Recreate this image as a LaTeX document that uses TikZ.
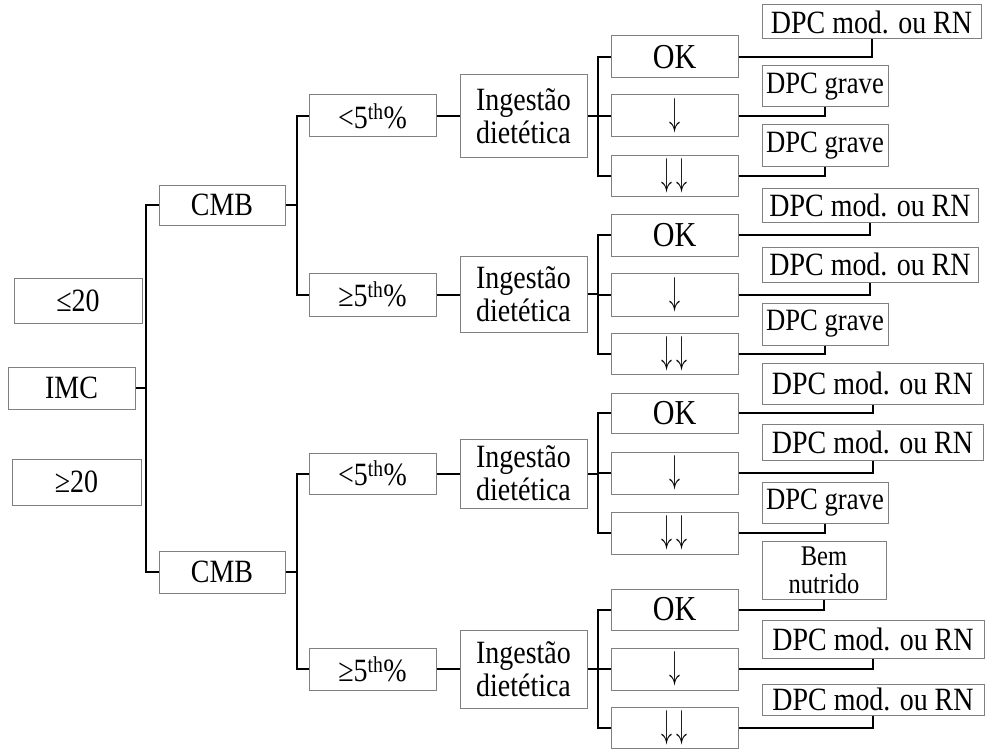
\documentclass[tikz,border=0pt]{standalone}
\usepackage{fontspec}
\setmainfont{Liberation Serif}[FakeStretch=0.86]
\newcommand{\dn}{\resizebox{11pt}{27pt}{$\downarrow$}}
\newcommand{\ddn}{\resizebox{11pt}{27pt}{$\downarrow$}\hspace{4pt}\resizebox{11pt}{27pt}{$\downarrow$}}
\begin{document}
\begin{tikzpicture}[x=1pt,y=-1pt,
  box/.style={draw=black!50, line width=1pt, inner sep=0pt, align=center,
    font=\fontsize{32.5}{33}\selectfont},
  lvl/.style={box, minimum width=127pt, minimum height=42pt},
  okbox/.style={lvl, font=\fontsize{35}{36}\selectfont},
  leafmod/.style={box, minimum width=220pt, minimum height=36pt},
  leafgrave/.style={box, minimum width=126pt, minimum height=41pt,
    font=\fontsize{31}{30}\selectfont},
  conn/.style={line width=2pt, black}]
\fill[white] (0,0) rectangle (988,749);
\useasboundingbox (0,0) rectangle (988,749);
% bus coordinates
\coordinate (b0) at (146,0);
\coordinate (b1) at (297,0);
\coordinate (b2) at (598,0);
% level 0
\node[box, minimum width=128pt, minimum height=45pt] (le20) at (78,300.5) {≤20};
\node[box, minimum width=127pt, minimum height=42pt] (imc) at (71.5,388) {IMC};
\node[box, minimum width=129pt, minimum height=46pt] (ge20) at (76.5,482) {≥20};
% level 1
\node[box, minimum width=126pt, minimum height=40pt] (cmbA) at (222,205) {CMB};
\node[box, minimum width=126pt, minimum height=42pt] (cmbB) at (222,572) {CMB};
% level 2
\node[lvl] (p1) at (372.5,116) {<5\textsuperscript{th}\%};
\node[lvl, minimum height=43pt] (p2) at (372.5,294.5) {≥5\textsuperscript{th}\%};
\node[lvl, minimum height=41pt] (p3) at (372.5,473.5) {<5\textsuperscript{th}\%};
\node[lvl] (p4) at (372.5,669) {≥5\textsuperscript{th}\%};
% level 3
\node[lvl, minimum height=83pt] (i1) at (523.5,116.5) {Ingestão\\dietética};
\node[lvl, minimum height=76pt] (i2) at (523.5,294) {Ingestão\\dietética};
\node[lvl, minimum height=69pt] (i3) at (523.5,473.5) {Ingestão\\dietética};
\node[lvl, minimum height=78pt] (i4) at (523.5,669) {Ingestão\\dietética};
% level 4
\node[okbox] (ok1) at (674.5,57) {OK};
\node[lvl] (dn1) at (674.5,116) {\dn};
\node[lvl, minimum height=40pt] (dd1) at (674.5,176) {\ddn};
\node[okbox] (ok2) at (674.5,235) {OK};
\node[lvl, minimum height=43pt] (dn2) at (674.5,294.5) {\dn};
\node[lvl, minimum height=41pt] (dd2) at (674.5,353.5) {\ddn};
\node[okbox, minimum height=40pt] (ok3) at (674.5,413) {OK};
\node[lvl] (dn3) at (674.5,473) {\dn};
\node[lvl] (dd3) at (674.5,533) {\ddn};
\node[okbox, minimum height=41pt] (ok4) at (674.5,609.5) {OK};
\node[lvl] (dn4) at (674.5,669) {\dn};
\node[lvl, minimum height=41pt] (dd4) at (674.5,728) {\ddn};
% leaves
\node[leafmod, minimum width=219pt, minimum height=34pt] (l11) at (871.5,22) {DPC mod. ou RN};
\node[leafgrave] (l12) at (825,86.5) {DPC grave};
\node[leafgrave, minimum height=42pt] (l13) at (825,146) {DPC grave};
\node[leafmod, minimum width=216pt, minimum height=34pt] (l21) at (870,205) {DPC mod. ou RN};
\node[leafmod, minimum width=216pt, minimum height=35pt] (l22) at (870,264.5) {DPC mod. ou RN};
\node[leafgrave, minimum height=42pt] (l23) at (825,324) {DPC grave};
\node[leafmod, minimum width=221pt, minimum height=41pt] (l31) at (872.5,383.5) {DPC mod. ou RN};
\node[leafmod, minimum width=221pt, minimum height=36pt] (l32) at (872.5,442) {DPC mod. ou RN};
\node[leafgrave] (l33) at (825,502.5) {DPC grave};
\node[box, minimum width=124pt, minimum height=58pt, font=\fontsize{28.5}{28}\selectfont] (l41) at (824,570) {Bem\\nutrido};
\node[leafmod, minimum width=222pt, minimum height=38pt] (l42) at (873,639) {DPC mod. ou RN};
\node[leafmod, minimum width=222pt, minimum height=31pt] (l43) at (873,699.5) {DPC mod. ou RN};
% connectors level 0-1
\draw[conn] (imc.east) -- (imc.east -| b0);
\draw[conn] (cmbA.west) -- (cmbA.west -| b0) -- (cmbB.west -| b0) -- (cmbB.west);
% level 1-2
\draw[conn] (cmbA.east) -- (cmbA.east -| b1);
\draw[conn] (p1.west) -- (p1.west -| b1) -- (p2.west -| b1) -- (p2.west);
\draw[conn] (cmbB.east) -- (cmbB.east -| b1);
\draw[conn] (p3.west) -- (p3.west -| b1) -- (p4.west -| b1) -- (p4.west);
% level 2-3
\draw[conn] (p1.east) -- (p1.east -| i1.west);
\draw[conn] (p2.east) -- (p2.east -| i2.west);
\draw[conn] (p3.east) -- (p3.east -| i3.west);
\draw[conn] (p4.east) -- (p4.east -| i4.west);
% level 3-4
\draw[conn] (i1.east) -- (i1.east -| b2);
\draw[conn] (ok1.west) -- (ok1.west -| b2) -- (dd1.west -| b2) -- (dd1.west);
\draw[conn] (dn1.west) -- (dn1.west -| b2);
\draw[conn] (i2.east) -- (i2.east -| b2);
\draw[conn] (ok2.west) -- (ok2.west -| b2) -- (dd2.west -| b2) -- (dd2.west);
\draw[conn] (dn2.west) -- (dn2.west -| b2);
\draw[conn] (i3.east) -- (i3.east -| b2);
\draw[conn] (ok3.west) -- (ok3.west -| b2) -- (dd3.west -| b2) -- (dd3.west);
\draw[conn] (dn3.west) -- (dn3.west -| b2);
\draw[conn] (i4.east) -- (i4.east -| b2);
\draw[conn] (ok4.west) -- (ok4.west -| b2) -- (dd4.west -| b2) -- (dd4.west);
\draw[conn] (dn4.west) -- (dn4.west -| b2);
% level 4-leaves
\draw[conn] (ok1.east) -| (l11.south);
\draw[conn] (dn1.east) -| (l12.south);
\draw[conn] (dd1.east) -| (l13.south);
\draw[conn] (ok2.east) -| (l21.south);
\draw[conn] (dn2.east) -| (l22.south);
\draw[conn] (dd2.east) -| (l23.south);
\draw[conn] (ok3.east) -| (l31.south);
\draw[conn] (dn3.east) -| (l32.south);
\draw[conn] (dd3.east) -| (l33.south);
\draw[conn] (ok4.east) -| (l41.south);
\draw[conn] (dn4.east) -| (l42.south);
\draw[conn] (dd4.east) -| (l43.south);
\end{tikzpicture}
\end{document}
